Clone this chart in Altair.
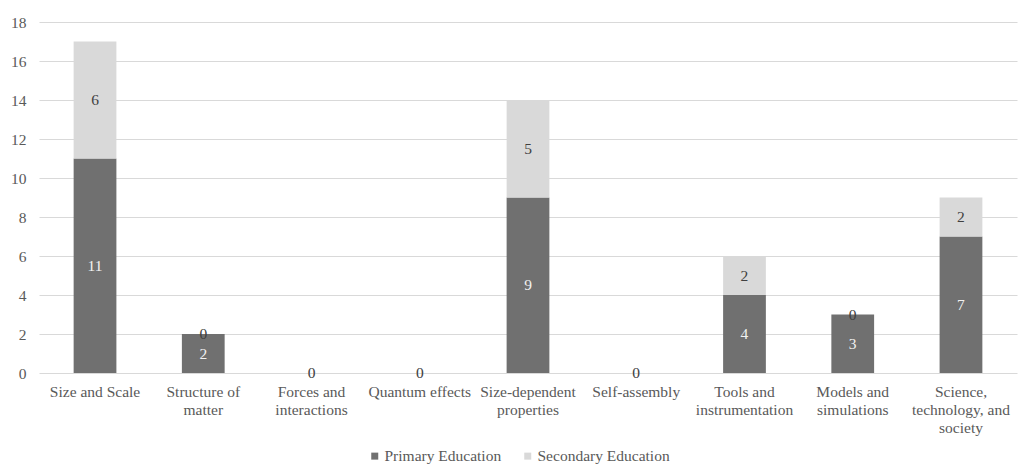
import altair as alt
import pandas as pd

categories = [
    "Size and Scale",
    "Structure of matter",
    "Forces and interactions",
    "Quantum effects",
    "Size-dependent properties",
    "Self-assembly",
    "Tools and instrumentation",
    "Models and simulations",
    "Science, technology, and society",
]
tick_lines = [
    ["Size and Scale"],
    ["Structure of", "matter"],
    ["Forces and", "interactions"],
    ["Quantum effects"],
    ["Size-dependent", "properties"],
    ["Self-assembly"],
    ["Tools and", "instrumentation"],
    ["Models and", "simulations"],
    ["Science,", "technology, and", "society"],
]
series = ["Primary Education", "Secondary Education"]
primary = [11, 2, 0, 0, 9, 0, 4, 3, 7]
secondary = [6, 0, 0, 0, 5, 0, 2, 0, 2]
colors = ["#707070", "#d9d9d9"]
label_colors = ["#f2f2f2", "#404040"]
y_ticks = [0, 2, 4, 6, 8, 10, 12, 14, 16, 18]

rows = []
for i, c in enumerate(categories):
    for s_idx, (s, vals) in enumerate(zip(series, [primary, secondary])):
        rows.append({"category": c, "series": s, "value": vals[i], "order": s_idx})
df = pd.DataFrame(rows)

# label expression for wrapped tick labels
expr = "''"
for c, lines in reversed(list(zip(categories, tick_lines))):
    arr = "[" + ",".join("'" + l + "'" for l in lines) + "]"
    expr = f"datum.value === '{c}' ? {arr} : ({expr})"

FONT = "Liberation Serif"
FS = 15.5

base = alt.Chart(df).transform_stack(
    stack="value", groupby=["category"], as_=["y0", "y1"],
    sort=[alt.SortField("order", order="ascending")]
).transform_calculate(mid="(datum.y0 + datum.y1) / 2")

x_scale = alt.Scale(domain=categories, paddingInner=0.605, paddingOuter=0.32)
y_scale = alt.Scale(domain=[0, 18], nice=False)

x_axis = alt.Axis(labelExpr=expr, labelAngle=0, labelFont=FONT, labelFontSize=FS,
                  labelColor="#595959", ticks=False, domain=False, labelPadding=11,
                  labelLineHeight=18, labelBaseline="top", grid=False, title=None)
y_axis = alt.Axis(values=y_ticks, labelOverlap=False, labelFont=FONT, labelFontSize=FS,
                  labelColor="#595959", ticks=False, domain=False, labelPadding=13,
                  gridColor="#d9d9d9", gridWidth=1, title=None)

bars = base.mark_bar().encode(
    x=alt.X("category:N", sort=categories, scale=x_scale, axis=x_axis),
    y=alt.Y("y0:Q", scale=y_scale, axis=y_axis),
    y2="y1:Q",
    color=alt.Color("series:N", sort=series,
                    scale=alt.Scale(domain=series, range=colors),
                    legend=alt.Legend(title=None, orient="none", direction="horizontal",
                                      legendX=328, legendY=426, symbolType="square",
                                      symbolSize=49, symbolStrokeWidth=0,
                                      labelFont=FONT, labelFontSize=FS, labelColor="#595959",
                                      columnPadding=18, labelOffset=2)),
    order=alt.Order("order:Q"),
)

text_layers = []
for s_idx, s in enumerate(series):
    text_layers.append(
        base.transform_filter(alt.datum.series == s)
        .mark_text(font=FONT, fontSize=FS, baseline="middle", color=label_colors[s_idx])
        .encode(
            x=alt.X("category:N", sort=categories, scale=x_scale, axis=x_axis),
            y=alt.Y("mid:Q", scale=y_scale, axis=y_axis),
            text=alt.Text("value:Q"),
        )
    )

chart = alt.layer(bars, *text_layers).properties(
    width=978, height=351,
    padding={"left": 39, "top": 22, "right": 1, "bottom": 91},
    autosize=alt.AutoSizeParams(type="none"),
    background="white",
).configure(font=FONT).configure_view(stroke=None)

chart.save("out.html", embed_options={"renderer": "svg", "actions": False})
